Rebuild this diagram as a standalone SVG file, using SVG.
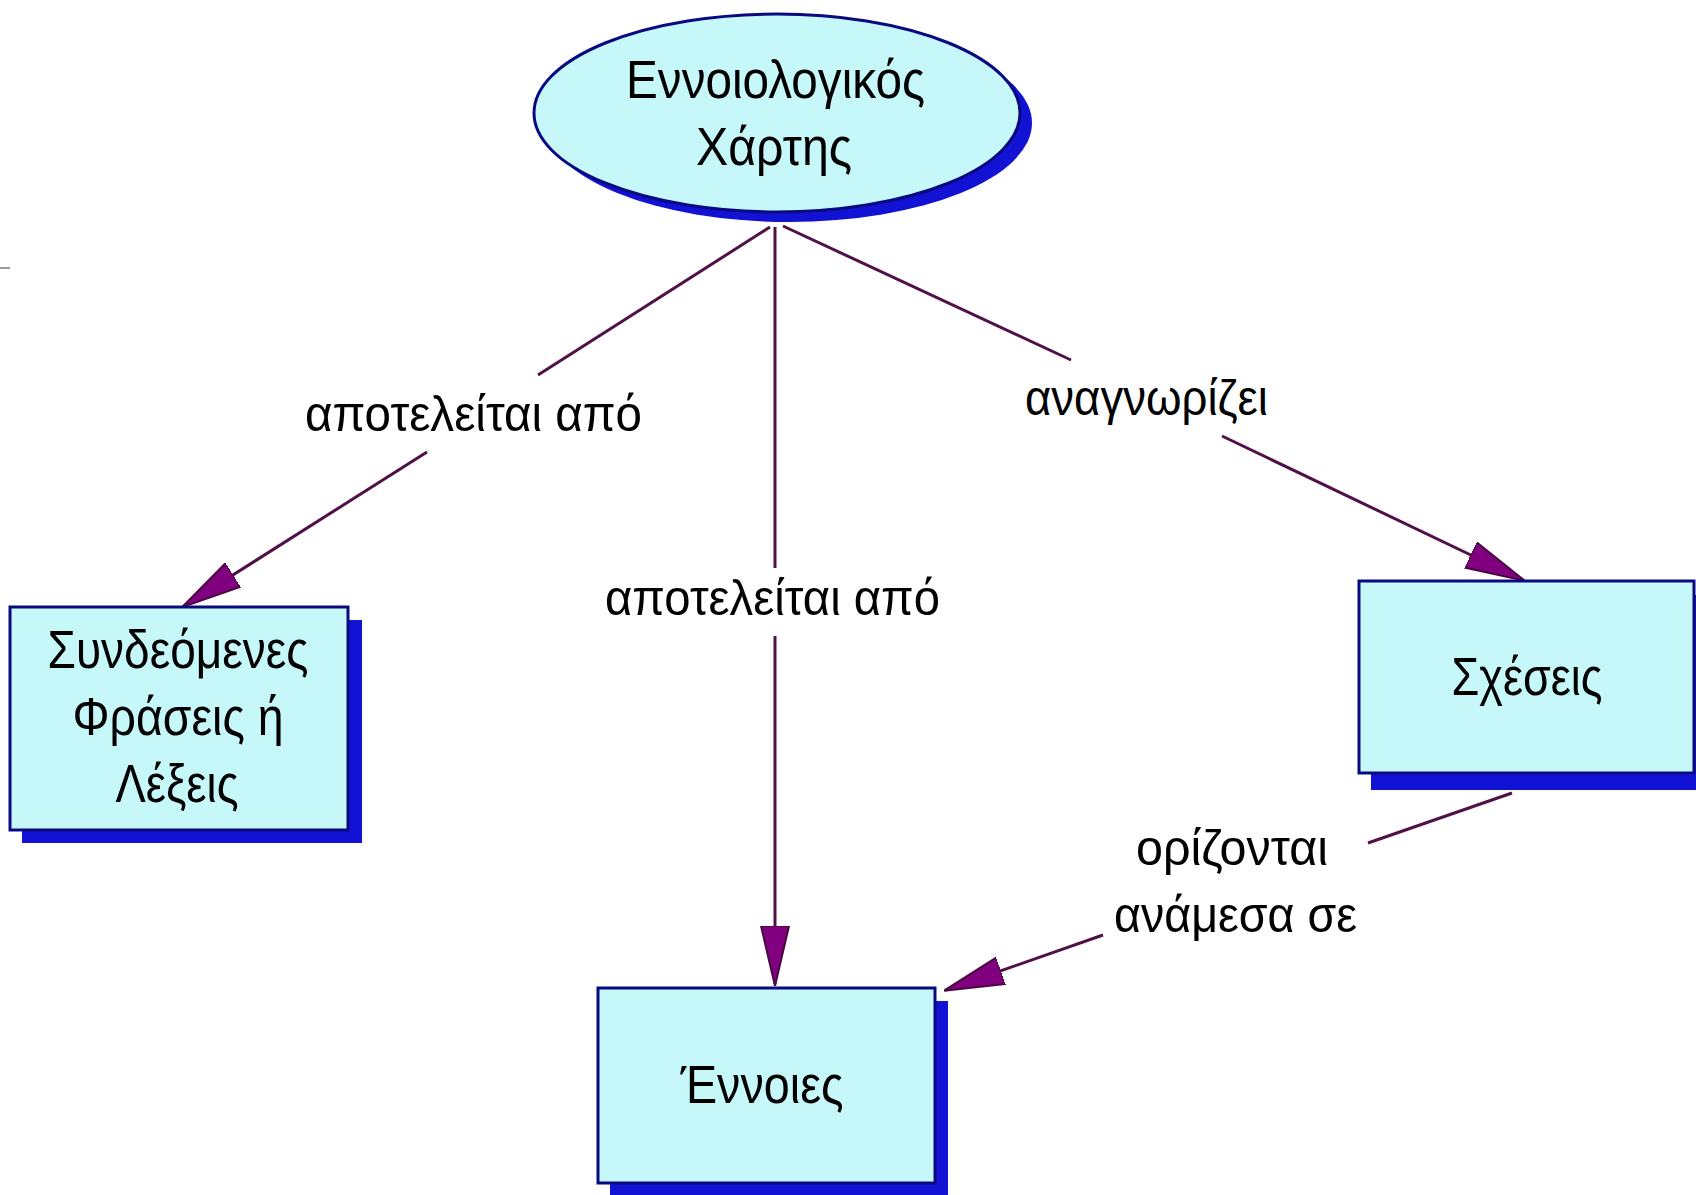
<svg xmlns="http://www.w3.org/2000/svg" width="1696" height="1195" viewBox="0 0 1696 1195">
<defs>
<style>
.shadow{fill:#1212d4;}
.node{fill:#c6f8fa;stroke:#0a0a80;stroke-width:3;}
.txt{font-family:"Liberation Sans","DejaVu Sans",sans-serif;font-size:54px;fill:#000;text-anchor:middle;}
.lbl{font-family:"Liberation Sans","DejaVu Sans",sans-serif;font-size:50px;fill:#000;text-anchor:middle;}
.edge{fill:none;stroke:#501048;stroke-width:3;}
</style>
<marker id="arr" viewBox="0 0 60 30" markerWidth="60" markerHeight="30" refX="58" refY="15" orient="auto" markerUnits="userSpaceOnUse">
<path d="M0,1 L60,15 L0,29 z" fill="#800080" stroke="#4a0a40" stroke-width="2"/>
</marker>
</defs>
<rect width="1696" height="1195" fill="#ffffff"/>
<line x1="0" y1="268" x2="10" y2="268" stroke="#999999" stroke-width="2"/>

<g id="connectors">
<path class="edge" d="M770,227 L538,375"/>
<path class="edge" d="M427,452 L184,606" marker-end="url(#arr)"/>
<path class="edge" d="M775,227 L775,568"/>
<path class="edge" d="M775,636 L775,984" marker-end="url(#arr)"/>
<path class="edge" d="M783,226 L1071,360"/>
<path class="edge" d="M1222,436 L1523,580" marker-end="url(#arr)"/>
<path class="edge" d="M1512,793 L1368,843"/>
<path class="edge" d="M1103,935 L946,990" marker-end="url(#arr)"/>
</g>

<g id="label-1">
<text class="lbl" x="473.5" y="431" textLength="337" lengthAdjust="spacingAndGlyphs">αποτελείται από</text>
</g>
<g id="label-2">
<text class="lbl" x="772.5" y="615" textLength="335" lengthAdjust="spacingAndGlyphs">αποτελείται από</text>
</g>
<g id="label-3">
<text class="lbl" x="1146.5" y="415" textLength="243" lengthAdjust="spacingAndGlyphs">αναγνωρίζει</text>
</g>
<g id="label-4">
<text class="lbl" x="1232" y="865" textLength="192" lengthAdjust="spacingAndGlyphs">ορίζονται</text>
<text class="lbl" x="1235.5" y="932" textLength="243" lengthAdjust="spacingAndGlyphs">ανάμεσα σε</text>
</g>

<g id="node-map">
<ellipse class="shadow" cx="789" cy="123" rx="243" ry="99"/>
<ellipse class="node" cx="777" cy="113" rx="243" ry="99"/>
<text class="txt" x="775.5" y="98" textLength="299" lengthAdjust="spacingAndGlyphs">Εννοιολογικός</text>
<text class="txt" x="774" y="165" textLength="156" lengthAdjust="spacingAndGlyphs">Χάρτης</text>
</g>

<g id="node-phrases">
<rect class="shadow" x="22" y="620" width="340" height="223"/>
<rect class="node" x="10" y="607" width="338" height="223"/>
<text class="txt" x="178" y="668" textLength="261" lengthAdjust="spacingAndGlyphs">Συνδεόμενες</text>
<text class="txt" x="178" y="735" textLength="211" lengthAdjust="spacingAndGlyphs">Φράσεις ή</text>
<text class="txt" x="177" y="802" textLength="123" lengthAdjust="spacingAndGlyphs">Λέξεις</text>
</g>

<g id="node-relations">
<rect class="shadow" x="1371" y="595" width="340" height="195"/>
<rect class="node" x="1359" y="581" width="335" height="192"/>
<text class="txt" x="1527" y="695" textLength="151" lengthAdjust="spacingAndGlyphs">Σχέσεις</text>
</g>

<g id="node-concepts">
<rect class="shadow" x="610" y="1001" width="338" height="200"/>
<rect class="node" x="598" y="988" width="337" height="195"/>
<text class="txt" x="762" y="1103" textLength="163" lengthAdjust="spacingAndGlyphs">Έννοιες</text>
</g>
</svg>
